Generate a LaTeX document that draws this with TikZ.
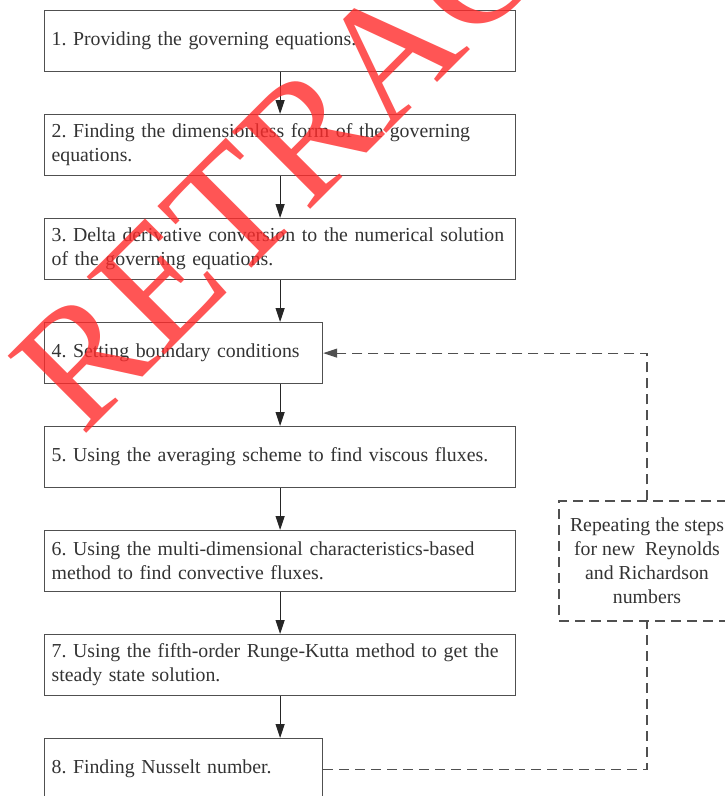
\documentclass[tikz,border=0pt]{standalone}
\usepackage{fontspec}
\setmainfont{Liberation Serif}
\usetikzlibrary{positioning,arrows.meta}

\definecolor{boxgray}{HTML}{505050}
\definecolor{textgray}{HTML}{333333}
\definecolor{wmred}{HTML}{FF2A2A}

\frenchspacing

\begin{document}
\begin{tikzpicture}[x=1pt, y=-1pt,
  stepbox/.style={draw=boxgray, line width=1.2pt, text=textgray,
    font=\fontsize{19.8}{24}\selectfont, align=left, text width=457pt,
    minimum height=61pt, inner xsep=7pt, inner ysep=0pt},
  shortbox/.style={stepbox, text width=264pt},
  repbox/.style={draw=boxgray, line width=1.2pt, dash pattern=on 10pt off 6pt,
    text=textgray, font=\fontsize{19.8}{24}\selectfont, align=center,
    minimum width=176pt, minimum height=120pt, inner sep=0pt},
  flow/.style={draw=black!85, line width=1.2pt, -{Triangle[length=14pt,width=9pt]}},
  back/.style={draw=boxgray, line width=1.2pt, dash pattern=on 10pt off 6pt}
]

\useasboundingbox (0,0) rectangle (725,796);

% Steps
\node[stepbox, anchor=north west] (b1) at (44,10) {1. Providing the governing equations.};
\node[stepbox, below=41.8pt of b1] (b2) {2. Finding the dimensionless form of the governing\\equations.};
\node[stepbox, below=41.8pt of b2] (b3) {3. Delta derivative conversion to the numerical solution\\of the governing equations.};
\node[shortbox, below=41.8pt of b3.south west, anchor=north west] (b4) {4. Setting boundary conditions};
\node[stepbox, below=41.8pt of b4.south west, anchor=north west] (b5) {5. Using the averaging scheme to find viscous fluxes.};
\node[stepbox, below=41.8pt of b5] (b6) {6. Using the multi-dimensional characteristics-based\\method to find convective fluxes.};
\node[stepbox, below=41.8pt of b6] (b7) {7. Using the fifth-order Runge-Kutta method to get the\\steady state solution.};
\node[shortbox, below=41.8pt of b7.south west, anchor=north west] (b8) {8. Finding Nusselt number.};

% Loop box
\node[repbox] (rep) at (647,561) {Repeating the steps\\for new\ \ Reynolds\\and Richardson\\numbers};

% Arrows
\draw[flow] (b1.south) -- (b2.north);
\draw[flow] (b2.south) -- (b3.north);
\draw[flow] (b3.south) -- (b3.south |- b4.north);
\draw[flow] (b4.south -| b5.north) -- (b5.north);
\draw[flow] (b5.south) -- (b6.north);
\draw[flow] (b6.south) -- (b7.north);
\draw[flow] (b7.south) -- (b7.south |- b8.north);

% Dashed return path
\draw[back] (b8.east) -| (rep.south);
\draw[back, -{Triangle[length=14pt,width=9pt]}] (rep.north) |- (b4.east);

% Watermark
\node[rotate=45, anchor=base west, inner sep=0pt, text=wmred, text opacity=0.8,
  font=\fontsize{168}{168}\selectfont] (wm) at (82,438) {RETRACTED};

\end{tikzpicture}
\end{document}
